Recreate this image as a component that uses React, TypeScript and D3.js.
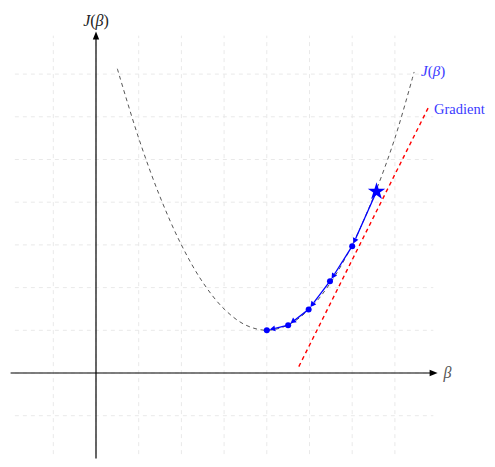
import React from "react";
import * as d3 from "d3";

const gridTicks = [-1, 0, 1, 2, 3, 4, 5, 6, 7];
const curveBeta = [0.5, 1, 1.5, 2, 2.5, 3, 3.5, 4, 4.5, 5, 5.5, 6, 6.5, 7, 7.45];
const curveJ = [7.125, 5.5, 4.125, 3, 2.125, 1.5, 1.125, 1, 1.125, 1.5, 2.125, 3, 4.125, 5.5, 7.05];
const iterBeta = [6.57, 6.0, 5.48, 4.98, 4.5, 4.0];
const iterJ = [4.25, 2.97, 2.15, 1.49, 1.12, 1.0];
const gradBeta = [4.75, 7.8];
const gradJ = [0.15, 6.25];

const W = 495;
const H = 467;

export default function App() {
  const x = d3.scaleLinear().domain([-2, 8]).range([96 - 2 * 42.7, 96 + 8 * 42.7]);
  const y = d3.scaleLinear().domain([-2, 8]).range([373 + 2 * 42.7, 373 - 8 * 42.7]);

  const line = d3
    .line<number>()
    .x((_, i) => x(curveBeta[i]))
    .y((d) => y(d))
    .curve(d3.curveCatmullRom);

  const star = d3.symbol().type(d3.symbolStar).size(95)();

  const segs = iterBeta.slice(1).map((b, i) => {
    const x0 = x(iterBeta[i]);
    const y0 = y(iterJ[i]);
    const x1 = x(b);
    const y1 = y(iterJ[i + 1]);
    const dx = x1 - x0;
    const dy = y1 - y0;
    const len = Math.hypot(dx, dy);
    const ux = dx / len;
    const uy = dy / len;
    const tipX = x1 - ux * 3;
    const tipY = y1 - uy * 3;
    const baseX = tipX - ux * 5.5;
    const baseY = tipY - uy * 5.5;
    const px = -uy * 3;
    const py = ux * 3;
    return { x0, y0, x1, y1, tipX, tipY, baseX, baseY, px, py };
  });

  const gMin = -1.9;
  const gMax = 7.9;

  return (
    <svg
      width={W}
      height={H}
      style={{ position: "absolute", left: 0, top: 0, background: "#fff" }}
      fontFamily="'Liberation Serif', 'DejaVu Serif', serif"
    >
      {gridTicks.map((t) => (
        <line
          key={"v" + t}
          x1={x(t)}
          x2={x(t)}
          y1={y(gMin)}
          y2={y(gMax)}
          stroke="#e9e9e9"
          strokeWidth={1}
          strokeDasharray="4,4"
        />
      ))}
      {gridTicks.map((t) => (
        <line
          key={"h" + t}
          x1={x(gMin)}
          x2={x(gMax)}
          y1={y(t)}
          y2={y(t)}
          stroke="#e9e9e9"
          strokeWidth={1}
          strokeDasharray="4,4"
        />
      ))}

      {/* axes */}
      <line x1={x(-2)} x2={x(8) - 4} y1={y(0)} y2={y(0)} stroke="#000" strokeWidth={1.2} />
      <path d={`M${x(8)},${y(0)} L${x(8) - 8},${y(0) - 3.2} L${x(8) - 8},${y(0) + 3.2} Z`} fill="#000" />
      <line x1={x(0)} x2={x(0)} y1={y(-2)} y2={y(8) + 4} stroke="#000" strokeWidth={1.2} />
      <path d={`M${x(0)},${y(8)} L${x(0) - 3.2},${y(8) + 8} L${x(0) + 3.2},${y(8) + 8} Z`} fill="#000" />

      <text x={x(8) + 6} y={y(0) + 5} fontSize={16} fontStyle="italic" fill="#555">
        β
      </text>
      <text x={x(0)} y={y(8) - 5} fontSize={16} textAnchor="middle" fill="#222">
        <tspan fontStyle="italic">J</tspan>(<tspan fontStyle="italic">β</tspan>)
      </text>

      {/* cost curve */}
      <path d={line(curveJ) || ""} fill="none" stroke="#444" strokeWidth={0.9} strokeDasharray="4,3.5" />

      {/* gradient line */}
      <line
        x1={x(gradBeta[0])}
        y1={y(gradJ[0])}
        x2={x(gradBeta[1])}
        y2={y(gradJ[1])}
        stroke="#ff0000"
        strokeWidth={1.4}
        strokeDasharray="4,3.5"
      />

      {/* descent path */}
      {segs.map((s, i) => (
        <g key={"s" + i}>
          <line x1={s.x0} y1={s.y0} x2={s.baseX} y2={s.baseY} stroke="#0000ff" strokeWidth={1.3} />
          <path
            d={`M${s.tipX},${s.tipY} L${s.baseX + s.px},${s.baseY + s.py} L${s.baseX - s.px},${s.baseY - s.py} Z`}
            fill="#0000ff"
          />
          <line x1={s.tipX} y1={s.tipY} x2={s.x1} y2={s.y1} stroke="#0000ff" strokeWidth={1.3} />
        </g>
      ))}
      {iterBeta.slice(1).map((b, i) => (
        <circle key={"c" + i} cx={x(b)} cy={y(iterJ[i + 1])} r={3} fill="#0000ff" />
      ))}
      <path d={star} transform={`translate(${x(iterBeta[0])},${y(iterJ[0])})`} fill="#0000ff" />

      <text x={x(7.45) + 7} y={y(7.05) + 4} fontSize={15} fill="#3a3aff">
        <tspan fontStyle="italic">J</tspan>(<tspan fontStyle="italic">β</tspan>)
      </text>
      <text x={x(7.8) + 5} y={y(6.25) + 8} fontSize={14.5} fill="#3a3aff">
        Gradient
      </text>
    </svg>
  );
}
